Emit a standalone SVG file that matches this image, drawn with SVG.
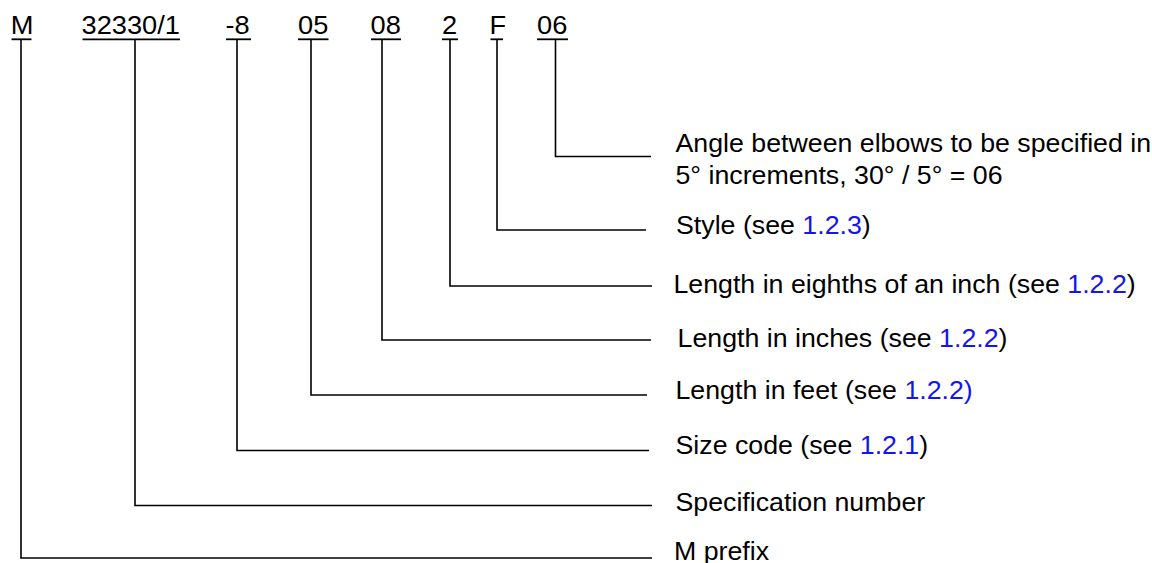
<svg xmlns="http://www.w3.org/2000/svg" width="1152" height="563" viewBox="0 0 1152 563">
<style>
  .hd { font-family: "Liberation Sans", Arial, sans-serif; font-size: 25px; fill: #000; }
  .lb { font-family: "Liberation Sans", Arial, sans-serif; font-size: 25px; fill: #000; }
  .ref { fill: #1414f0; }
  .ul { stroke: #000; stroke-width: 1.8; fill: none; }
  .cn { stroke: #000; stroke-width: 1.6; fill: none; }
</style>
<rect width="1152" height="563" fill="#fff"/>

<g id="header">
  <g transform="scale(1.09,1)">
    <text id="t-M" class="hd" x="9.8" y="34.5">M</text>
    <text id="t-spec" class="hd" x="74.8" y="34.5">32330/1</text>
    <text id="t-size" class="hd" x="206.9" y="34.5">-8</text>
    <text id="t-feet" class="hd" x="273.4" y="34.5">05</text>
    <text id="t-inch" class="hd" x="340" y="34.5">08</text>
    <text id="t-eighth" class="hd" x="405.4" y="34.5">2</text>
    <text id="t-style" class="hd" x="449.1" y="34.5">F</text>
    <text id="t-angle" class="hd" x="492.7" y="34.5">06</text>
  </g>
  <g id="underlines">
    <line class="ul" x1="11.5" y1="39.3" x2="31.5" y2="39.3"/>
    <line class="ul" x1="82.5" y1="39.3" x2="180" y2="39.3"/>
    <line class="ul" x1="226" y1="39.3" x2="251" y2="39.3"/>
    <line class="ul" x1="298" y1="39.3" x2="328.5" y2="39.3"/>
    <line class="ul" x1="371" y1="39.3" x2="401" y2="39.3"/>
    <line class="ul" x1="442" y1="39.3" x2="458" y2="39.3"/>
    <line class="ul" x1="490.5" y1="39.3" x2="503" y2="39.3"/>
    <line class="ul" x1="537" y1="39.3" x2="568" y2="39.3"/>
  </g>
</g>

<g id="connectors">
  <path class="cn" d="M555.5 39.3 V156.5 H651"/>
  <path class="cn" d="M497 39.3 V230 H646"/>
  <path class="cn" d="M450 39.3 V286 H652"/>
  <path class="cn" d="M382 39.3 V340 H651"/>
  <path class="cn" d="M311 39.3 V395 H647"/>
  <path class="cn" d="M237 39.3 V450.5 H649"/>
  <path class="cn" d="M135 39.3 V505.5 H652"/>
  <path class="cn" d="M21 39.3 V558 H652"/>
</g>

<g transform="scale(1.07,1)">
  <g id="n-angle">
    <text class="lb" x="631.3" y="152">Angle between elbows to be specified in</text>
    <text class="lb" x="631.3" y="184">5° increments, 30° / 5° = 06</text>
  </g>
  <g id="n-style">
    <text class="lb" x="631.8" y="234">Style (see <tspan class="ref">1.2.3</tspan>)</text>
  </g>
  <g id="n-eighths">
    <text class="lb" x="629.4" y="293">Length in eighths of an inch (see <tspan class="ref">1.2.2</tspan>)</text>
  </g>
  <g id="n-inches">
    <text class="lb" x="633.2" y="347">Length in inches (see <tspan class="ref">1.2.2</tspan>)</text>
  </g>
  <g id="n-feet">
    <text class="lb" x="631.3" y="399">Length in feet (see <tspan class="ref">1.2.2)</tspan></text>
  </g>
  <g id="n-size">
    <text class="lb" x="631.3" y="454">Size code (see <tspan class="ref">1.2.1</tspan>)</text>
  </g>
  <g id="n-spec">
    <text class="lb" x="631.3" y="511">Specification number</text>
  </g>
  <g id="n-prefix">
    <text class="lb" x="629.9" y="560">M prefix</text>
  </g>
</g>
</svg>
